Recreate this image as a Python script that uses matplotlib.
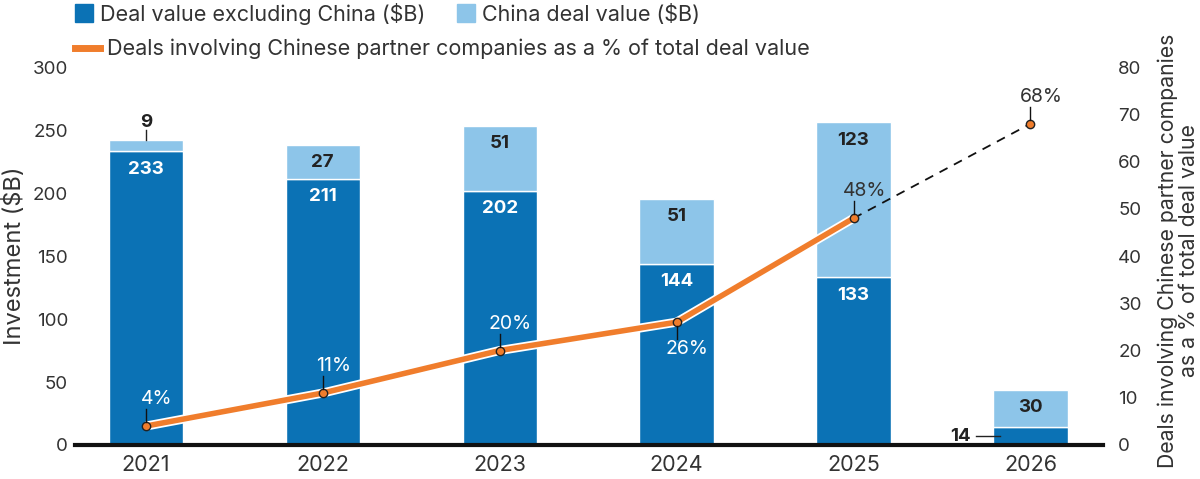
import matplotlib
matplotlib.use('Agg')
import matplotlib.pyplot as plt
import matplotlib.patheffects as pe
from matplotlib.lines import Line2D
import numpy as np

years = ['2021', '2022', '2023', '2024', '2025', '2026']
ex_china = [233, 211, 202, 144, 133, 14]
china = [9, 27, 51, 51, 123, 30]
pct = [4, 11, 20, 26, 48, 68]

DARK = '#0b72b5'
LIGHT = '#8dc5e9'
ORANGE = '#f07d2c'
TXT = '#222222'
GREY = '#333333'

plt.rcParams['font.family'] = ['Inter', 'DejaVu Sans']

fig = plt.figure(figsize=(12, 4.79), dpi=100)
ax = fig.add_axes([0.0625, 0.071, 0.8567, 0.789])
x = np.arange(len(years))
w = 0.42

ax.bar(x, ex_china, w, color=DARK, edgecolor='white', linewidth=1, zorder=2)
ax.bar(x, china, w, bottom=ex_china, color=LIGHT, edgecolor='white', linewidth=1, zorder=2)

for i in range(len(years)):
    lo, hi = ex_china[i], china[i]
    if i == 5:
        # tiny segment, label sits left with a leader
        ax.plot([x[i] - 0.31, x[i] - 0.17], [lo / 2, lo / 2], color=TXT, lw=1, zorder=3)
        ax.text(x[i] - 0.34, lo / 2, str(lo), ha='right', va='center', fontsize=13.5,
                fontweight='bold', color=TXT)
    else:
        ax.text(x[i], lo - 14, str(lo), ha='center', va='center', fontsize=13.5,
                fontweight='bold', color='white', zorder=3)
    if i == 0:
        top = lo + hi
        ax.plot([x[i], x[i]], [top, top + 8], color=TXT, lw=1, zorder=3)
        ax.text(x[i], top + 14, str(hi), ha='center', va='center', fontsize=13.5,
                fontweight='bold', color=TXT)
    else:
        ax.text(x[i], lo + hi - 14, str(hi), ha='center', va='center', fontsize=13.5,
                fontweight='bold', color=TXT, zorder=3)

ax.set_ylim(0, 300)
ax.set_xlim(-0.4, 5.41)
ax.set_yticks(range(0, 301, 50))
ax.set_xticks(x)
ax.set_xticklabels(years)
ax.tick_params(length=0, colors=GREY)
ax.tick_params(axis='x', pad=7, labelsize=15.5)
ax.tick_params(axis='y', pad=5, labelsize=13.5)
for s in ['top', 'right', 'left']:
    ax.spines[s].set_visible(False)
ax.spines['bottom'].set_linewidth(3)
ax.spines['bottom'].set_color('#111111')
ax.spines['bottom'].set_zorder(4)
ax.set_ylabel('Investment ($B)', fontsize=17, color=GREY, labelpad=5)

ax2 = ax.twinx()
ax2.set_ylim(0, 80)
ax2.set_yticks(range(0, 81, 10))
ax2.tick_params(length=0, labelsize=13.5, colors=GREY, pad=11)
for s in ['top', 'right', 'left', 'bottom']:
    ax2.spines[s].set_visible(False)
ax2.set_ylabel('Deals involving Chinese partner companies\nas a % of total deal value',
               fontsize=15.3, color=GREY, rotation=90, linespacing=1.08)
ax2.yaxis.set_label_coords(1.053, 0.515)

ax2.plot(x[4:], pct[4:], color='#111111', lw=1.3, ls=(0, (5, 4)), zorder=3)
ax2.plot(x[:5], pct[:5], color=ORANGE, lw=4, zorder=4, solid_capstyle='butt',
         path_effects=[pe.Stroke(linewidth=6.5, foreground='white'), pe.Normal()])
ax2.plot(x, pct, 'o', color=ORANGE, markersize=6, markeredgecolor='#222222',
         markeredgewidth=1, zorder=5)

for i, p in enumerate(pct):
    col = 'white' if i < 4 else GREY
    sign = -1 if i == 3 else 1
    ax2.plot([x[i], x[i]], [p + sign * 0.8, p + sign * 3.6], color='#111111', lw=1, zorder=5)
    ax2.text(x[i] + 0.06, p + sign * 5.7, f'{p}%', ha='center', va='center', fontsize=14,
             color=col, zorder=6)

h1 = [Line2D([], [], marker='s', ls='', color=DARK, markersize=13),
      Line2D([], [], marker='s', ls='', color=LIGHT, markersize=13)]
fig.legend(h1, ['Deal value excluding China ($B)', 'China deal value ($B)'],
           loc='upper left', bbox_to_anchor=(0.046, 1.035), ncol=2, frameon=False,
           fontsize=15.5, handlelength=0.9, handletextpad=0.3, columnspacing=1.4,
           labelcolor=GREY)
h2 = [Line2D([], [], color=ORANGE, lw=5)]
fig.legend(h2, ['Deals involving Chinese partner companies as a % of total deal value'],
           loc='upper left', bbox_to_anchor=(0.046, 0.96), frameon=False,
           fontsize=15.5, handlelength=1.2, handletextpad=0.3, labelcolor=GREY)

fig.savefig('out.png', dpi=100)
